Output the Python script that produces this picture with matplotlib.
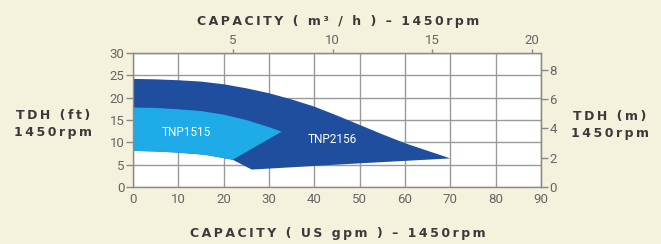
import matplotlib
matplotlib.use("Agg")
import matplotlib.pyplot as plt

# ---- data (US gpm, ft) ----
big_top_x = [0, 5, 10, 15, 20, 25, 30, 35, 40, 45, 50, 55, 60, 65, 70]
big_top_y = [24.2, 24.1, 23.9, 23.6, 23.0, 22.1, 21.0, 19.6, 18.0, 16.0, 13.9, 11.8, 9.8, 8.1, 6.4]
big_bot_x = [70, 50, 26.2, 22.0]
big_bot_y = [6.4, 5.3, 3.9, 6.1]

small_top_x = [0, 5, 10, 15, 20, 25, 30, 32.8]
small_top_y = [17.8, 17.7, 17.4, 17.0, 16.2, 15.0, 13.4, 12.4]
small_bot_x = [22.0, 16, 10, 5, 0]
small_bot_y = [6.1, 7.2, 7.7, 7.95, 8.1]

series_names = ["TNP1515", "TNP2156"]
x_ticks = [0, 10, 20, 30, 40, 50, 60, 70, 80, 90]
y_ticks = [0, 5, 10, 15, 20, 25, 30]
m_ticks = [0, 2, 4, 6, 8]
m3h_ticks = [5, 10, 15, 20]

BG = "#F4F1DC"
DARK = "#1F4E9E"
LIGHT = "#1EABE8"
GRID = "#9a9a9a"
TXT = "#666666"
TITLE = "#3a3a3a"
SPINE = "#8a8a8a"
NARROW = ["Roboto", "DejaVu Sans"]

fig = plt.figure(figsize=(6.61, 2.44), dpi=100, facecolor=BG)
ax = fig.add_axes([133/661, 1-187/244, (541-133)/661, (187-53)/244])
ax.set_facecolor("white")
ax.set_xlim(0, 90)
ax.set_ylim(0, 30)

# dark region (TNP2156)
dx = big_top_x + big_bot_x + small_bot_x[1:]
dy = big_top_y + big_bot_y + small_bot_y[1:]
ax.fill(dx, dy, color=DARK, lw=0, zorder=3)
# light region (TNP1515)
lx = small_top_x + small_bot_x
ly = small_top_y + small_bot_y
ax.fill(lx, ly, color=LIGHT, lw=0, zorder=4)

ax.text(11.8, 12.2, series_names[0], color="white", fontsize=8.5, ha="center", va="center",
        family=NARROW, zorder=5)
ax.text(44, 10.7, series_names[1], color="white", fontsize=8.5, ha="center", va="center",
        family=NARROW, zorder=5)

ax.set_xticks(x_ticks)
ax.set_yticks(y_ticks)
ax.grid(True, color=GRID, lw=1.0, zorder=1)
ax.set_axisbelow(True)
for s in ax.spines.values():
    s.set_color(SPINE)
    s.set_linewidth(1.0)
    s.set_zorder(6)

ax.tick_params(axis="x", length=0, pad=4, colors=TXT, labelsize=9.5)
ax.tick_params(axis="y", length=5, width=1, color=SPINE, pad=1, labelcolor=TXT, labelsize=9.5)
for lab in ax.get_xticklabels() + ax.get_yticklabels():
    lab.set_family(NARROW)

# right axis metres
ft2m = 0.3048
axr = ax.secondary_yaxis("right", functions=(lambda f: f*ft2m, lambda m: m/ft2m))
axr.set_yticks(m_ticks)
axr.tick_params(length=5, width=1, color=SPINE, pad=1, labelcolor=TXT, labelsize=9.5)
axr.spines["right"].set_color(SPINE)
for lab in axr.get_yticklabels():
    lab.set_family(NARROW)

# top axis m3/h
gpm_per_m3h = 4.403
axt = ax.secondary_xaxis("top", functions=(lambda g: g/gpm_per_m3h, lambda q: q*gpm_per_m3h))
axt.set_xticks(m3h_ticks)
axt.tick_params(length=3, width=1, color=SPINE, pad=1, labelcolor=TXT, labelsize=9.5)
axt.spines["top"].set_color(SPINE)
for lab in axt.get_xticklabels():
    lab.set_family(NARROW)

def spaced(s):
    return "\u2009".join(list(s))

tkw = dict(color=TITLE, fontsize=9, fontweight="bold", family=["DejaVu Sans"], ha="center", va="center")
fig.text(338/661, 1-21/244, spaced("CAPACITY ( m³ / h ) – 1450rpm"), **tkw)
fig.text(338/661, 1-233/244, spaced("CAPACITY ( US gpm ) – 1450rpm"), **tkw)
fig.text(53/661, 1-124/244, spaced("TDH (ft)") + "\n" + spaced("1450rpm"), linespacing=1.35, **tkw)
fig.text(610/661, 1-125/244, spaced("TDH (m)") + "\n" + spaced("1450rpm"), linespacing=1.35, **tkw)

fig.savefig("out.png", dpi=100, facecolor=BG)
